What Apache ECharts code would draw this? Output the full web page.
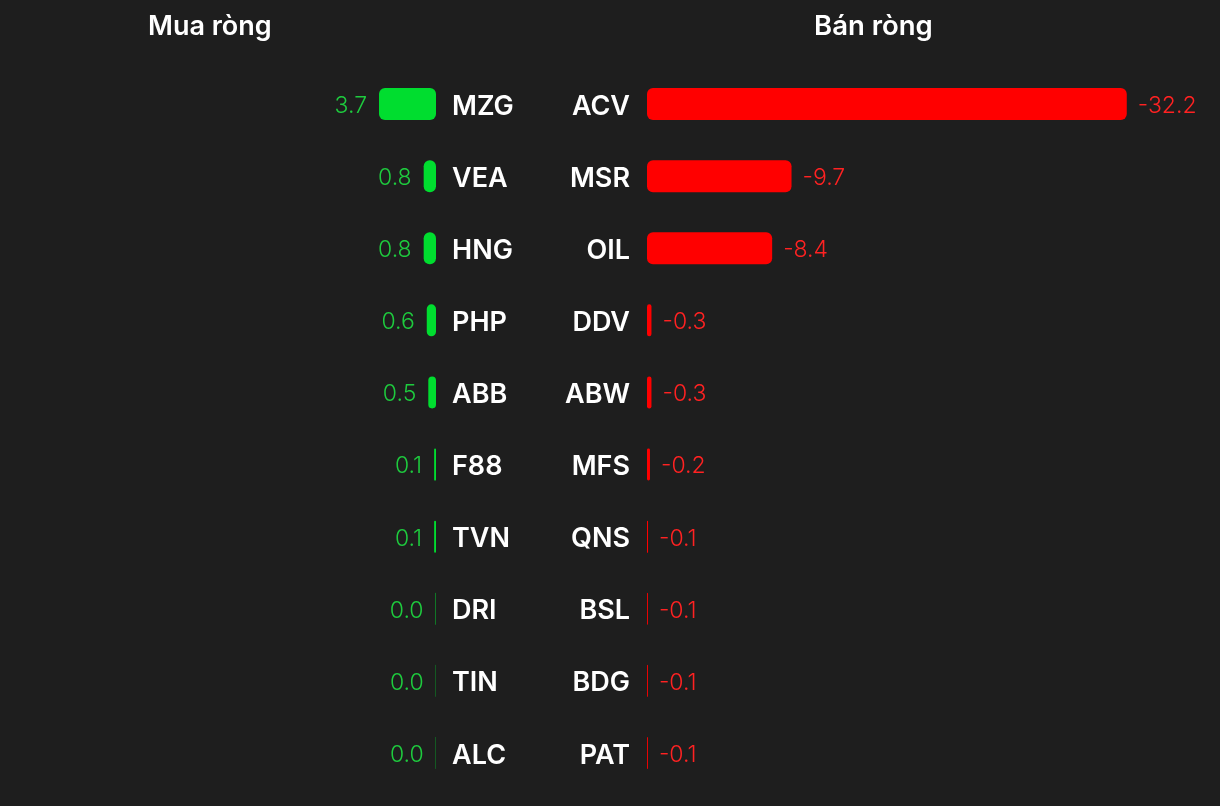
<!DOCTYPE html>
<html><head><meta charset="utf-8">
<style>html,body{margin:0;padding:0;background:#1e1e1e;}#c{width:1220px;height:806px;}</style>
<script src="https://cdn.jsdelivr.net/npm/echarts@6/dist/echarts.min.js"></script>
</head><body><div id="c"></div>
<script>
var buyCategories = ['MZG','VEA','HNG','PHP','ABB','F88','TVN','DRI','TIN','ALC'];
var buyValues = [3.7, 0.8, 0.8, 0.6, 0.5, 0.12, 0.12, 0.03, 0.02, 0.02];
var sellCategories = ['ACV','MSR','OIL','DDV','ABW','MFS','QNS','BSL','BDG','PAT'];
var sellValues = [-32.2, -9.7, -8.4, -0.3, -0.3, -0.2, -0.07, -0.06, -0.06, -0.06];
var titles = ['Mua ròng', 'Bán ròng'];

var FONT = 'Inter, "Noto Sans", sans-serif';
var catRich = {c: {color: '#ffffff', fontSize: 27, fontWeight: 600, fontFamily: FONT, padding: [5, 0, 0, 0]}};
var chart = echarts.init(document.getElementById('c'));
chart.setOption({
  backgroundColor: '#1e1e1e',
  animation: false,
  title: [
    {text: titles[0], left: 143, top: 8,
     textStyle: {color: '#ffffff', fontSize: 27, fontWeight: 600, fontFamily: FONT}},
    {text: titles[1], left: 809, top: 8,
     textStyle: {color: '#ffffff', fontSize: 27.5, fontWeight: 600, fontFamily: FONT}}
  ],
  grid: [
    {left: 282, right: 784, top: 68, bottom: 17},
    {left: 647, right: 51.5, top: 68, bottom: 17}
  ],
  xAxis: [
    {gridIndex: 0, type: 'value', min: 0, max: 10, inverse: true, show: false},
    {gridIndex: 1, type: 'value', min: 0, max: 35, show: false}
  ],
  yAxis: [
    {gridIndex: 0, type: 'category', data: buyCategories, inverse: true, position: 'right',
     axisLine: {show: false}, axisTick: {show: false}, splitLine: {show: false},
     axisLabel: {align: 'left', margin: 16, rich: catRich, formatter: function (v) { return '{c|' + v + '}'; }}},
    {gridIndex: 1, type: 'category', data: sellCategories, inverse: true, position: 'left',
     axisLine: {show: false}, axisTick: {show: false}, splitLine: {show: false},
     axisLabel: {align: 'right', margin: 17, rich: catRich, formatter: function (v) { return '{c|' + v + '}'; }}}
  ],
  series: [
    {type: 'bar', xAxisIndex: 0, yAxisIndex: 0, data: buyValues, barWidth: 32,
     itemStyle: {color: '#00dd2f', borderRadius: 6},
     label: {show: true, position: 'left', distance: 12, offset: [0, 2], color: '#1ecb3e', fontSize: 23, fontWeight: 300, fontFamily: FONT,
       formatter: function (p) { return p.value.toFixed(1); }}},
    {type: 'bar', xAxisIndex: 1, yAxisIndex: 1, data: sellValues.map(function (v) { return Math.abs(v); }), barWidth: 32,
     itemStyle: {color: '#ff0000', borderRadius: 6},
     label: {show: true, position: 'right', distance: 11, offset: [0, 2], color: '#ff2222', fontSize: 23, fontWeight: 300, fontFamily: FONT,
       formatter: function (p) { return sellValues[p.dataIndex].toFixed(1); }}}
  ]
});
</script></body></html>
